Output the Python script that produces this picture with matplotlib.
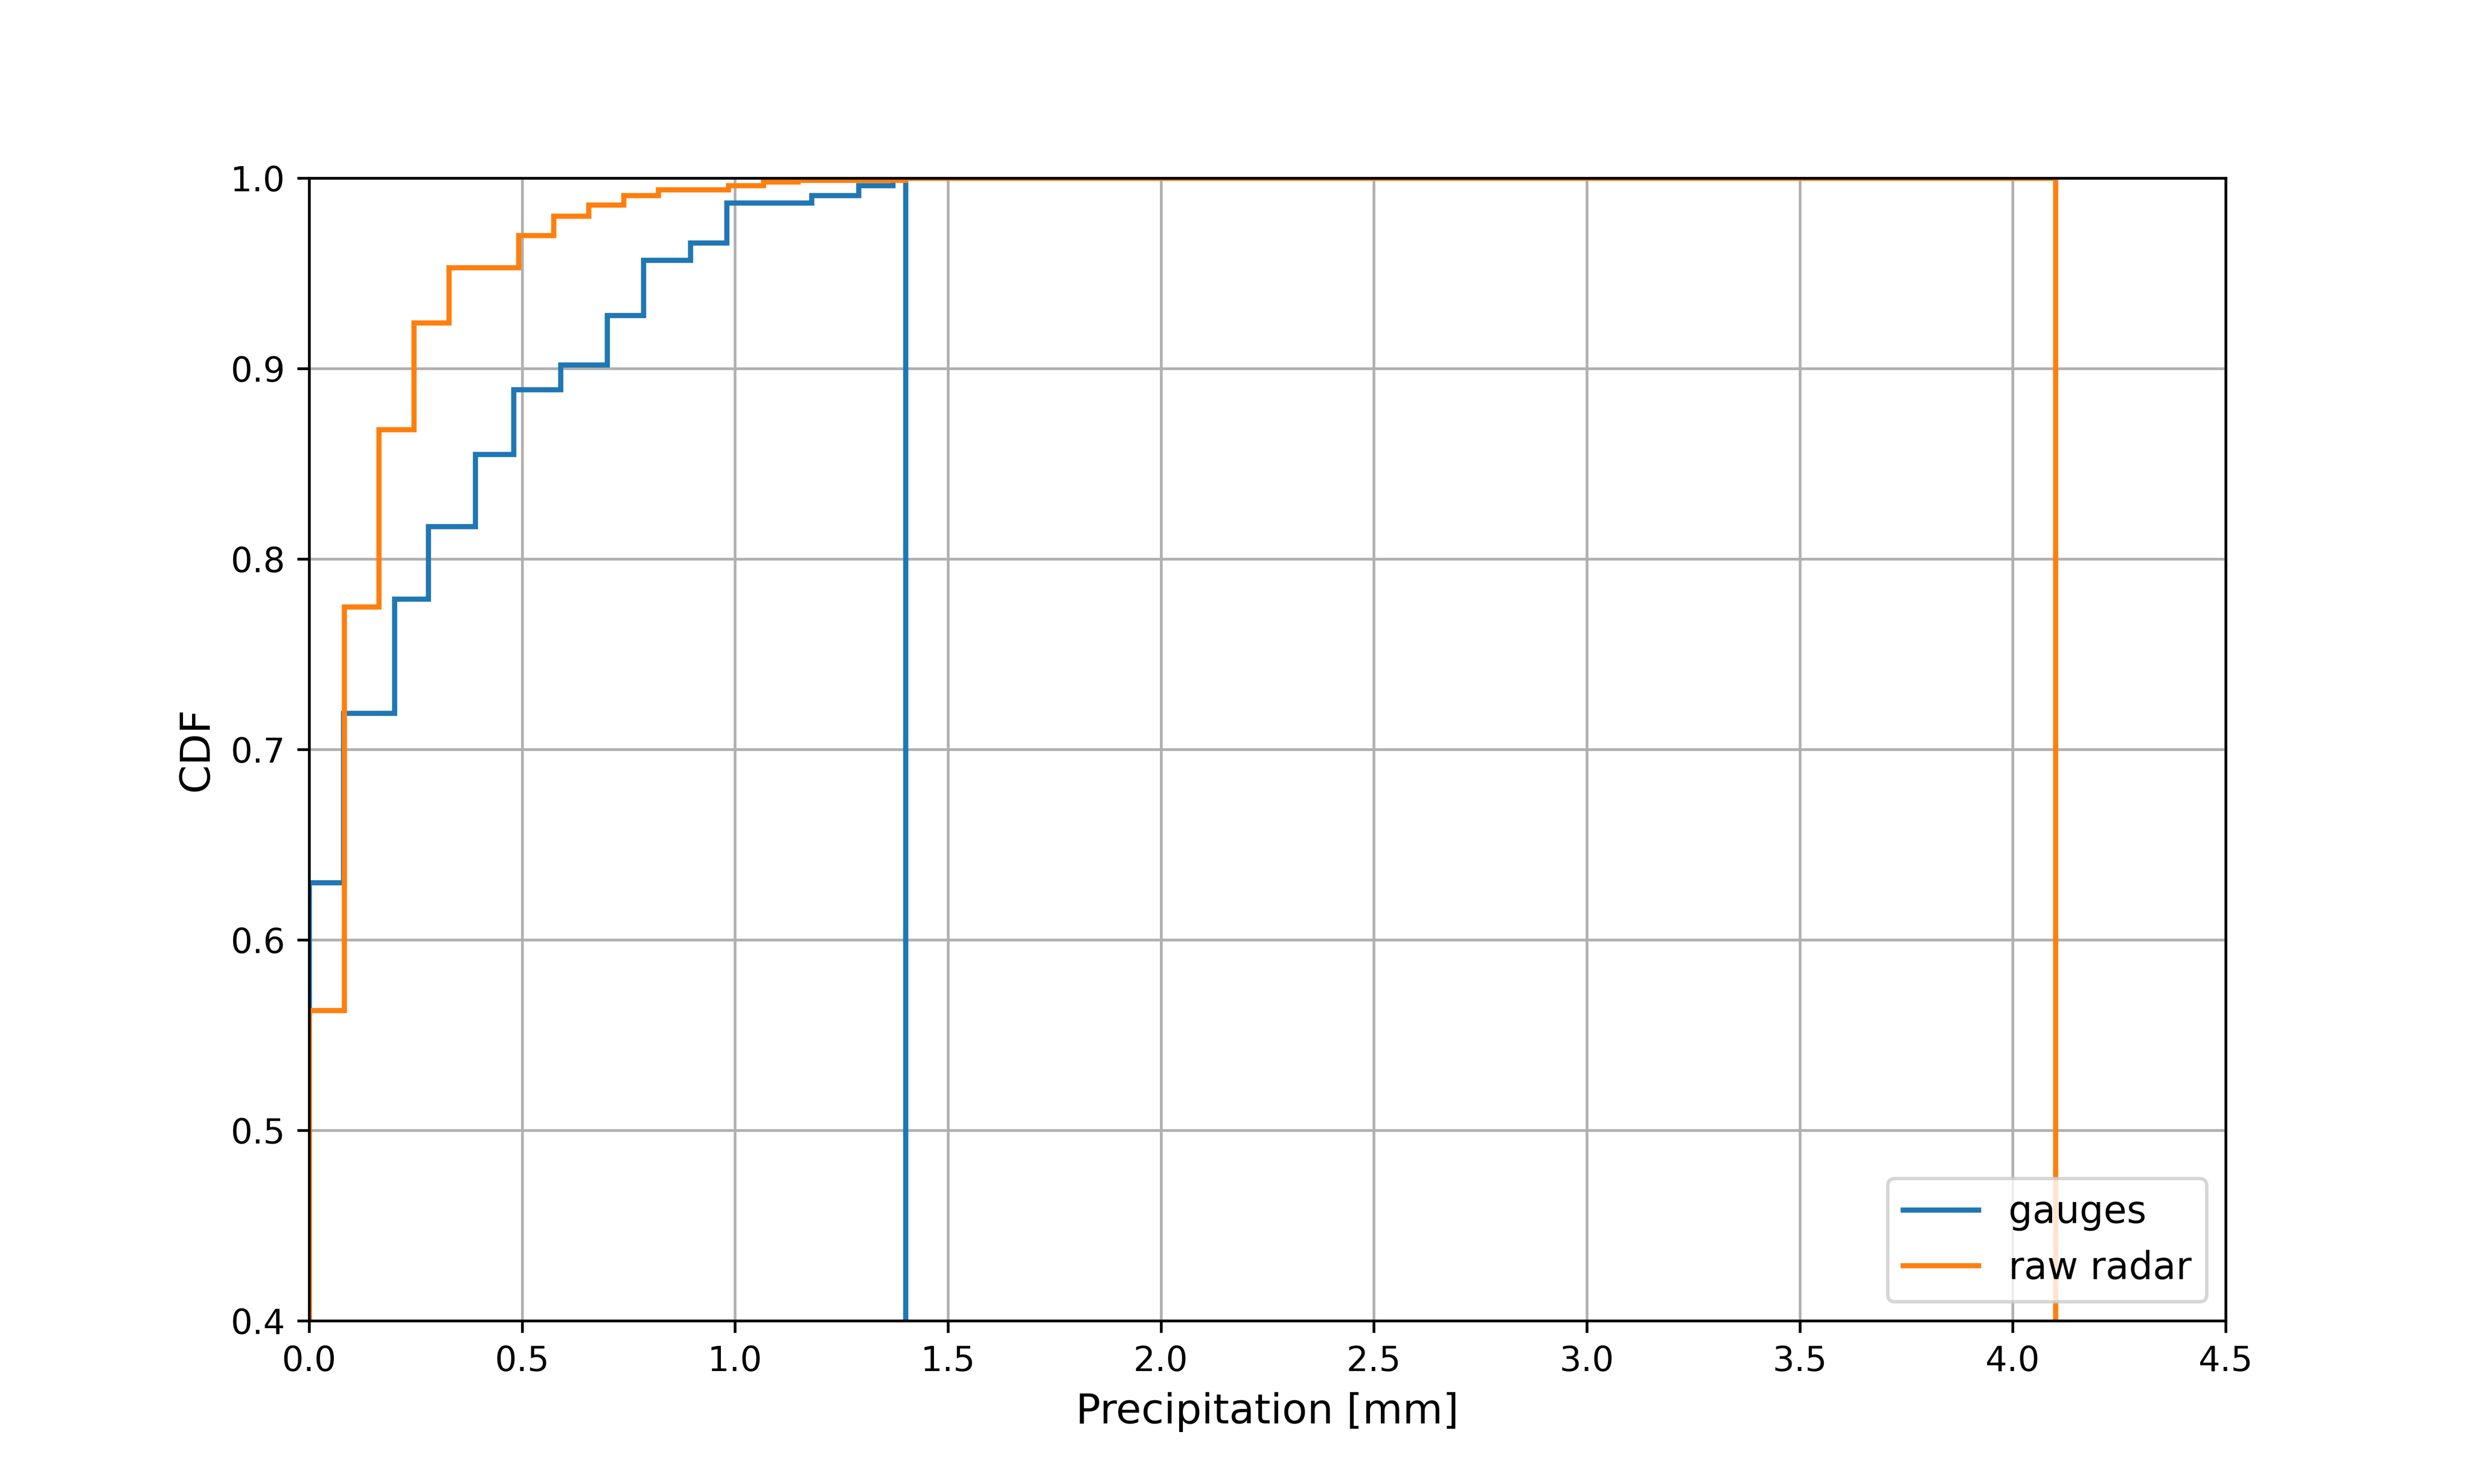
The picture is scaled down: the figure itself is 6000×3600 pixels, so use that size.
import numpy as np
import matplotlib.pyplot as plt

gauge_edges = [0, 0.08, 0.2, 0.28, 0.39, 0.48, 0.59, 0.70, 0.785, 0.895, 0.98, 1.18, 1.29, 1.37, 1.40]
gauge_cdf = [0.63, 0.719, 0.779, 0.817, 0.855, 0.889, 0.902, 0.928, 0.957, 0.966, 0.987, 0.991, 0.996, 1.0]

radar_edges = [0, 0.082, 0.164, 0.246, 0.328, 0.492, 0.574, 0.656, 0.738, 0.82, 0.984, 1.066, 1.148, 1.40, 4.10]
radar_cdf = [0.563, 0.775, 0.868, 0.924, 0.953, 0.970, 0.980, 0.986, 0.991, 0.994, 0.996, 0.998, 0.999, 1.0]

fig, ax = plt.subplots(figsize=(10, 6), dpi=600)
ax.stairs(gauge_cdf, gauge_edges, baseline=0, color='C0', linewidth=1.5, label='gauges')
ax.stairs(radar_cdf, radar_edges, baseline=0, color='C1', linewidth=1.5, label='raw radar')
ax.set_xlim(0, 4.5)
ax.set_ylim(0.4, 1.0)
ax.grid(True)
ax.set_axisbelow(True)
ax.set_xlabel('Precipitation [mm]', fontsize=12)
ax.set_ylabel('CDF', fontsize=12)
ax.legend(loc='lower right', fontsize=11)
plt.savefig('out.png')
